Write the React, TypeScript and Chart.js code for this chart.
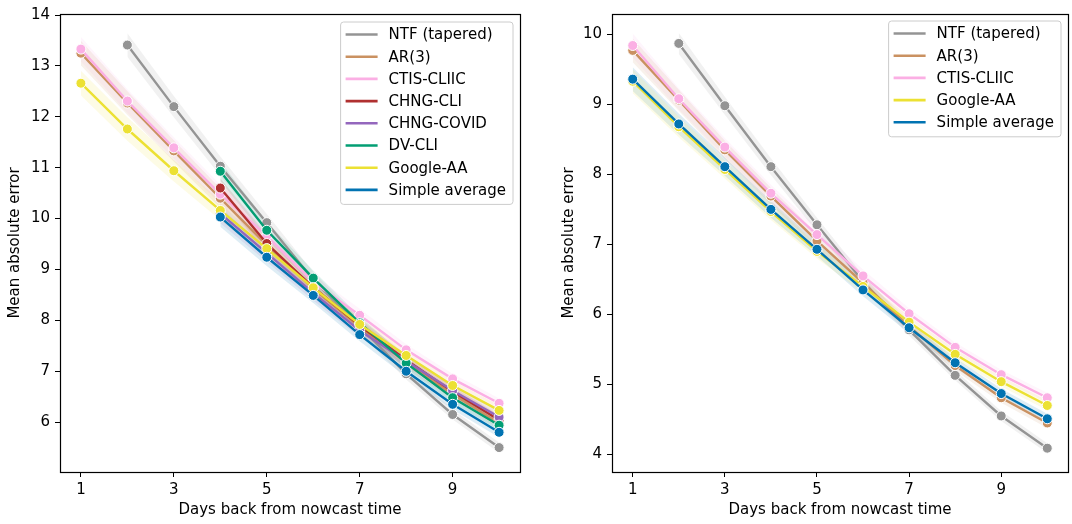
import React, { useEffect, useRef } from "react";
import { Chart, registerables } from "chart.js";

Chart.register(...registerables);

// ---------- data ----------
const days = [1, 2, 3, 4, 5, 6, 7, 8, 9, 10];
const xTicks = [1, 3, 5, 7, 9];
const leftYTicks = [6, 7, 8, 9, 10, 11, 12, 13, 14];
const rightYTicks = [4, 5, 6, 7, 8, 9, 10];

const seriesNames = [
  "NTF (tapered)",
  "AR(3)",
  "CTIS-CLIIC",
  "CHNG-CLI",
  "CHNG-COVID",
  "DV-CLI",
  "Google-AA",
  "Simple average",
];
const seriesColors = [
  "#949494",
  "#ca9161",
  "#fbafe4",
  "#b03030",
  "#9467bd",
  "#029e73",
  "#ece133",
  "#0173b2",
];

// left panel (all signals)
const leftNTF = [null, 13.41, 12.2, 11.03, 9.92, 8.8, 7.88, 6.95, 6.15, 5.5];
const leftAR = [13.25, 12.27, 11.33, 10.4, 9.48, 8.62, 7.87, 7.17, 6.55, 5.98];
const leftCTIS = [13.33, 12.31, 11.39, 10.48, 9.66, 8.75, 8.1, 7.42, 6.85, 6.37];
const leftCHNGCLI = [null, null, null, 10.6, 9.51, 8.65, 7.9, 7.22, 6.6, 6.04];
const leftCHNGCOVID = [null, null, null, 10.1, 9.32, 8.54, 7.8, 7.2, 6.62, 6.1];
const leftDV = [null, null, null, 10.93, 9.77, 8.83, 7.95, 7.16, 6.48, 5.94];
const leftGoogle = [12.66, 11.76, 10.94, 10.16, 9.41, 8.64, 7.92, 7.31, 6.72, 6.23];
const leftSimple = [null, null, null, 10.03, 9.24, 8.49, 7.72, 7.0, 6.35, 5.8];
const leftBandHalfWidth = [0.24, 0.23, 0.21, 0.19, 0.17, 0.15, 0.13, 0.11, 0.1, 0.1];

// right panel (subset)
const rightNTF = [null, 9.87, 8.98, 8.11, 7.28, 6.47, 5.78, 5.13, 4.55, 4.09];
const rightAR = [9.77, 9.06, 8.35, 7.69, 7.05, 6.45, 5.83, 5.27, 4.81, 4.45];
const rightCTIS = [9.84, 9.08, 8.39, 7.73, 7.14, 6.55, 6.01, 5.53, 5.14, 4.81];
const rightGoogle = [9.33, 8.68, 8.07, 7.47, 6.9, 6.4, 5.89, 5.43, 5.04, 4.7];
const rightSimple = [9.36, 8.72, 8.11, 7.5, 6.93, 6.35, 5.81, 5.31, 4.87, 4.51];
const rightBandHalfWidth = [0.17, 0.15, 0.13, 0.12, 0.1, 0.09, 0.08, 0.07, 0.07, 0.07];

const leftSeriesIdx = [0, 1, 2, 3, 4, 5, 6, 7];
const leftSeries = [leftNTF, leftAR, leftCTIS, leftCHNGCLI, leftCHNGCOVID, leftDV, leftGoogle, leftSimple];
const rightSeriesIdx = [0, 1, 2, 6, 7];
const rightSeries = [rightNTF, rightAR, rightCTIS, rightGoogle, rightSimple];

// ---------- helpers ----------
const FONT = "'DejaVu Sans', 'Liberation Sans', sans-serif";

function rgba(hex: string, a: number) {
  const n = parseInt(hex.slice(1), 16);
  return `rgba(${(n >> 16) & 255},${(n >> 8) & 255},${n & 255},${a})`;
}

const framePlugin = {
  id: "frame",
  afterDatasetsDraw(chart: any) {
    const { ctx, chartArea: a } = chart;
    ctx.save();
    ctx.strokeStyle = "#000";
    ctx.lineWidth = 1.2;
    ctx.strokeRect(Math.round(a.left) + 0.5, Math.round(a.top) + 0.5, Math.round(a.right - a.left), Math.round(a.bottom - a.top));
    ctx.restore();
  },
};

const boxLegendPlugin = {
  id: "boxLegend",
  afterDraw(chart: any, _args: any, opts: any) {
    const items: { label: string; color: string }[] = opts.items || [];
    if (!items.length) return;
    const { ctx, chartArea: a } = chart;
    ctx.save();
    ctx.font = `15px ${FONT}`;
    let maxW = 0;
    items.forEach((it) => (maxW = Math.max(maxW, ctx.measureText(it.label).width)));
    const rowH = 22.2;
    const w = maxW + 55;
    const h = rowH * (items.length - 1) + 27;
    const x0 = a.right - 7 - w;
    const y0 = a.top + opts.offsetTop;
    const r = 3;
    ctx.beginPath();
    ctx.moveTo(x0 + r, y0);
    ctx.lineTo(x0 + w - r, y0);
    ctx.quadraticCurveTo(x0 + w, y0, x0 + w, y0 + r);
    ctx.lineTo(x0 + w, y0 + h - r);
    ctx.quadraticCurveTo(x0 + w, y0 + h, x0 + w - r, y0 + h);
    ctx.lineTo(x0 + r, y0 + h);
    ctx.quadraticCurveTo(x0, y0 + h, x0, y0 + h - r);
    ctx.lineTo(x0, y0 + r);
    ctx.quadraticCurveTo(x0, y0, x0 + r, y0);
    ctx.closePath();
    ctx.fillStyle = "rgba(255,255,255,0.8)";
    ctx.fill();
    ctx.strokeStyle = "#cccccc";
    ctx.lineWidth = 1;
    ctx.stroke();
    ctx.textBaseline = "middle";
    ctx.textAlign = "left";
    items.forEach((it, i) => {
      const cy = y0 + 12.5 + i * rowH;
      ctx.strokeStyle = it.color;
      ctx.lineWidth = 2.6;
      ctx.beginPath();
      ctx.moveTo(x0 + 5, cy);
      ctx.lineTo(x0 + 37, cy);
      ctx.stroke();
      ctx.fillStyle = "#000";
      ctx.fillText(it.label, x0 + 48, cy + 1);
    });
    ctx.restore();
  },
};

type PanelCfg = {
  series: (number | null)[][];
  idx: number[];
  band: number[];
  yMin: number;
  yMax: number;
  yTicks: number[];
  yAxisWidth: number;
  yTitlePad: number;
  padding: { left: number; right: number; top: number; bottom: number };
  legendTop: number;
};

function makeConfig(p: PanelCfg): any {
  const datasets: any[] = [];
  const n = p.series.length;
  // bands first (drawn underneath)
  p.series.forEach((vals, s) => {
    const color = seriesColors[p.idx[s]];
    const up: any[] = [];
    const lo: any[] = [];
    vals.forEach((v, i) => {
      if (v == null) return;
      up.push({ x: days[i], y: v + p.band[i] });
      lo.push({ x: days[i], y: v - p.band[i] });
    });
    datasets.push({
      data: up,
      borderWidth: 0,
      pointRadius: 0,
      backgroundColor: rgba(color, 0.13),
      fill: "+1",
      order: 200 + s,
      tension: 0,
    });
    datasets.push({
      data: lo,
      borderWidth: 0,
      pointRadius: 0,
      backgroundColor: "rgba(0,0,0,0)",
      fill: false,
      order: 200 + s,
      tension: 0,
    });
  });
  p.series.forEach((vals, s) => {
    const color = seriesColors[p.idx[s]];
    const pts: any[] = [];
    vals.forEach((v, i) => {
      if (v != null) pts.push({ x: days[i], y: v });
    });
    datasets.push({
      label: seriesNames[p.idx[s]],
      data: pts,
      borderColor: color,
      backgroundColor: color,
      borderWidth: 2.4,
      pointRadius: 5,
      pointBackgroundColor: color,
      pointBorderColor: "#ffffff",
      pointBorderWidth: 1,
      fill: false,
      tension: 0,
      order: n - s,
    });
  });

  const tickFont = { family: FONT, size: 15 };
  return {
    type: "line",
    data: { datasets },
    plugins: [framePlugin, boxLegendPlugin],
    options: {
      responsive: false,
      animation: false,
      events: [],
      layout: { padding: p.padding },
      plugins: {
        legend: { display: false },
        tooltip: { enabled: false },
        filler: { drawTime: "beforeDatasetsDraw" },
        boxLegend: {
          items: p.idx.map((k) => ({ label: seriesNames[k], color: seriesColors[k] })),
          offsetTop: p.legendTop,
        },
      },
      scales: {
        x: {
          type: "linear",
          min: 0.55,
          max: 10.45,
          afterBuildTicks: (scale: any) => {
            scale.ticks = xTicks.map((v) => ({ value: v }));
          },
          afterFit: (scale: any) => {
            scale.height = 52;
          },
          ticks: {
            font: tickFont,
            color: "#000",
            padding: 4,
            maxRotation: 0,
            autoSkip: false,
          },
          grid: {
            drawOnChartArea: false,
            drawTicks: true,
            tickLength: 5,
            color: "#000",
          },
          border: { display: true, color: "#000", width: 1 },
          title: {
            display: true,
            text: "Days back from nowcast time",
            font: tickFont,
            color: "#000",
            padding: { top: 0, bottom: 5 },
          },
        },
        y: {
          type: "linear",
          min: p.yMin,
          max: p.yMax,
          afterBuildTicks: (scale: any) => {
            scale.ticks = p.yTicks.map((v) => ({ value: v }));
          },
          afterFit: (scale: any) => {
            scale.width = p.yAxisWidth;
          },
          ticks: {
            font: tickFont,
            color: "#000",
            padding: 5,
            autoSkip: false,
          },
          grid: {
            drawOnChartArea: false,
            drawTicks: true,
            tickLength: 5,
            color: "#000",
          },
          border: { display: true, color: "#000", width: 1 },
          title: {
            display: true,
            text: "Mean absolute error",
            font: tickFont,
            color: "#000",
            padding: { top: p.yTitlePad, bottom: 0 },
          },
        },
      },
    },
  };
}

function Panel(props: { cfg: PanelCfg; left: number; width: number }) {
  const ref = useRef<HTMLCanvasElement | null>(null);
  useEffect(() => {
    if (!ref.current) return;
    const chart = new Chart(ref.current, makeConfig(props.cfg));
    return () => chart.destroy();
  }, []);
  return (
    <canvas
      ref={ref}
      width={props.width}
      height={524}
      style={{ position: "absolute", left: props.left, top: 0, width: props.width, height: 524 }}
    />
  );
}

const leftCfg: PanelCfg = {
  series: leftSeries,
  idx: leftSeriesIdx,
  band: leftBandHalfWidth,
  yMin: 5.02,
  yMax: 14.02,
  yTicks: leftYTicks,
  yAxisWidth: 60,
  yTitlePad: 6,
  padding: { left: 0, right: 20, top: 12, bottom: 0 },
  legendTop: 8,
};

const rightCfg: PanelCfg = {
  series: rightSeries,
  idx: rightSeriesIdx,
  band: rightBandHalfWidth,
  yMin: 3.75,
  yMax: 10.29,
  yTicks: rightYTicks,
  yAxisWidth: 72,
  yTitlePad: 20,
  padding: { left: 0, right: 1, top: 7, bottom: 0 },
  legendTop: 7,
};

export default function App() {
  return (
    <div
      style={{
        position: "fixed",
        left: 0,
        top: 0,
        width: 1072,
        height: 524,
        overflow: "hidden",
        background: "#fff",
      }}
    >
      <Panel cfg={leftCfg} left={0} width={540} />
      <Panel cfg={rightCfg} left={540} width={534} />
    </div>
  );
}
